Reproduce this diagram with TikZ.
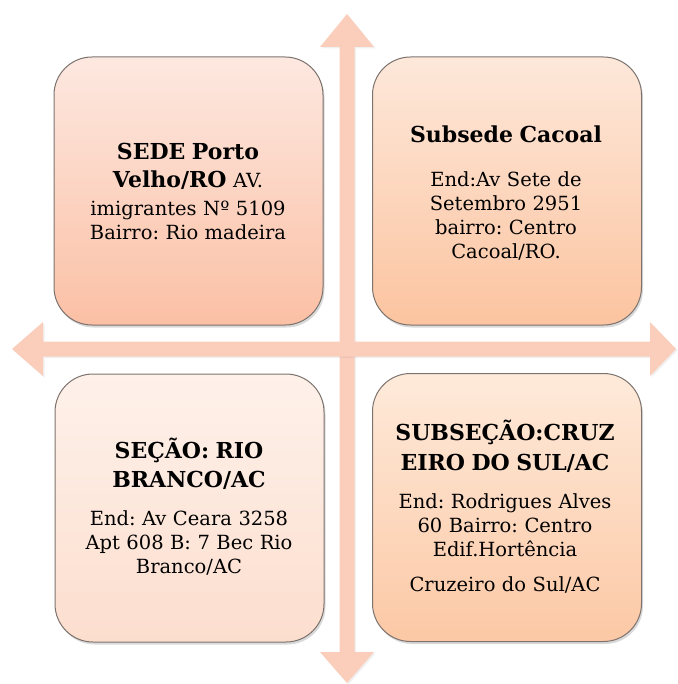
\documentclass[tikz,border=0pt]{standalone}
\usepackage{fontspec}
\setmainfont{DejaVu Serif}
\usetikzlibrary{shadows}
\frenchspacing
\definecolor{arrowc}{RGB}{251,206,188}
\definecolor{edgec}{RGB}{125,115,110}
\definecolor{tlTop}{RGB}{253,232,224}
\definecolor{tlBot}{RGB}{251,192,165}
\definecolor{trTop}{RGB}{253,232,218}
\definecolor{trBot}{RGB}{252,196,160}
\definecolor{blTop}{RGB}{254,241,234}
\definecolor{blBot}{RGB}{252,222,206}
\definecolor{brTop}{RGB}{254,234,218}
\definecolor{brBot}{RGB}{252,200,165}
\newcommand\ttlfont{\fontsize{22}{24}\selectfont\bfseries}
\newcommand\bodyfont{\fontsize{19.5}{24}\selectfont\frenchspacing}
\tikzset{
  quadbox/.style={draw=edgec, line width=1pt, rounded corners=38pt,
    minimum width=269pt, minimum height=268pt, inner sep=0pt,
    drop shadow={opacity=0.3, shadow xshift=1.5pt, shadow yshift=-2.5pt}},
  quadtext/.style={anchor=base, text width=262pt, align=center, inner sep=0pt, font=\bodyfont},
  bigarrow/.style={fill=arrowc, draw=none,
    drop shadow={opacity=0.12, shadow xshift=1.5pt, shadow yshift=-1.5pt}}
}
\begin{document}
\begin{tikzpicture}[x=1pt,y=-1pt]
\useasboundingbox (0,0) rectangle (677,684);
% cross of double arrows
\coordinate (vtop) at (347,14);
\coordinate (vbot) at (347,683);
\coordinate (hleft) at (12,349);
\coordinate (hright) at (676,349);
\fill[bigarrow] (339.5,47) -- (320,47) -- (vtop) -- (374,47) -- (354.5,47) -- (354.5,652) -- (374,652) -- (vbot) -- (320,652) -- (339.5,652) -- cycle;
\fill[bigarrow] (43,341.5) -- (43,322) -- (hleft) -- (43,376) -- (43,356.5) -- (650,356.5) -- (650,376) -- (hright) -- (650,322) -- (650,341.5) -- cycle;
% boxes
\node[quadbox, top color=tlTop, bottom color=tlBot] (sede) at (188.5,191) {};
\node[quadbox, top color=trTop, bottom color=trBot] (cacoal) at (507,191) {};
\node[quadbox, top color=blTop, bottom color=blBot] (rio) at (189.5,508) {};
\node[quadbox, top color=brTop, bottom color=brBot] (cruz) at (507,507.5) {};
% texts
\node[quadtext] (sedeT) at (188,160) {{\ttlfont SEDE Porto}\\[4pt]{\ttlfont Velho/RO} AV.\\[4pt]imigrantes Nº 5109\\Bairro: Rio madeira};
\node[quadtext] (cacoalT) at (506,143) {{\ttlfont Subsede Cacoal}\\[20pt]End:Av Sete de\\Setembro 2951\\bairro: Centro\\Cacoal/RO.};
\node[quadtext] (rioT) at (189,458) {{\ttlfont SEÇÃO: RIO}\\[5pt]{\ttlfont BRANCO/AC}\\[14pt]End: Av Ceara 3258\\Apt 608 B: 7 Bec Rio\\Branco/AC};
\node[quadtext] (cruzT) at (505,440) {{\ttlfont SUBSEÇÃO:CRUZ}\\[6pt]{\ttlfont EIRO DO SUL/AC}\\[14pt]End: Rodrigues Alves\\60 Bairro: Centro\\Edif.Hortência\\[11pt]Cruzeiro do Sul/AC};
\end{tikzpicture}
\end{document}
